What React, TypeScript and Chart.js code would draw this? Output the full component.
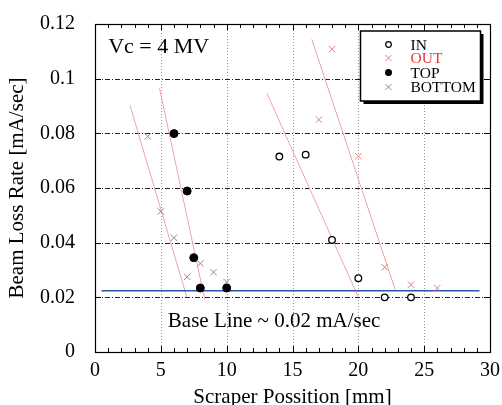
import React, { useEffect, useRef } from "react";
import { Chart, registerables } from "chart.js";

Chart.register(...registerables);

// ---- data ----
const inX = [14, 16, 18, 20, 22, 24];
const inY = [0.0715, 0.0722, 0.041, 0.027, 0.02, 0.02];
const outX = [17, 18, 20, 22, 24, 26];
const outY = [0.085, 0.1108, 0.0716, 0.031, 0.0246, 0.0234];
const topX = [6, 7, 7.5, 8, 10];
const topY = [0.0799, 0.0589, 0.0345, 0.0234, 0.0234];
const bottomX = [4, 5, 6, 7, 8, 9, 10];
const bottomY = [0.0789, 0.0514, 0.0418, 0.0275, 0.0324, 0.0292, 0.0256];
// fitted lines (two endpoints each)
const fitAX = [2.65, 6.97];
const fitAY = [0.0904, 0.0201];
const fitBX = [4.9, 8.33];
const fitBY = [0.0965, 0.0193];
const fitCX = [13.05, 20.0];
const fitCY = [0.0947, 0.0201];
const fitDX = [16.46, 22.8];
const fitDY = [0.1144, 0.0228];
const baseX = [0.5, 29.2];
const baseY = [0.0224, 0.0224];

const xTicks = [0, 5, 10, 15, 20, 25, 30];
const yTicks = [0, 0.02, 0.04, 0.06, 0.08, 0.1, 0.12];

const legendLabels = ["IN", "OUT", "TOP", "BOTTOM"];
const annotVc = { text: "Vc = 4 MV", x: 1.0, y: 0.1095 };
const annotBase = { text: "Base Line ~ 0.02 mA/sec", x: 5.53, y: 0.0092 };

const FONT = "'Liberation Serif', 'Times New Roman', serif";
const RED = "#ef7a7a";
const RED_LINE = "#f3a3a3";
const GREY = "#8a8a8a";

const pts = (xs: number[], ys: number[]) => xs.map((x, i) => ({ x, y: ys[i] }));

const framePlugin = {
  id: "frame",
  beforeDatasetsDraw(chart: any) {
    const { ctx, chartArea: a, scales } = chart;
    const xs = scales.x;
    const ys = scales.y;
    ctx.save();
    // vertical grid (dotted grey)
    ctx.strokeStyle = "#9a9a9a";
    ctx.lineWidth = 1;
    ctx.setLineDash([1, 2]);
    xTicks.slice(1, -1).forEach((v) => {
      const px = Math.round(xs.getPixelForValue(v)) + 0.5;
      ctx.beginPath();
      ctx.moveTo(px, a.top);
      ctx.lineTo(px, a.bottom);
      ctx.stroke();
    });
    // horizontal grid (dash-dot dark)
    ctx.strokeStyle = "#222";
    ctx.setLineDash([5, 2, 1, 2]);
    yTicks.slice(1, -1).forEach((v) => {
      const py = Math.round(ys.getPixelForValue(v)) + 0.5;
      ctx.beginPath();
      ctx.moveTo(a.left, py);
      ctx.lineTo(a.right, py);
      ctx.stroke();
    });
    ctx.setLineDash([]);
    // ticks
    ctx.strokeStyle = "#000";
    ctx.lineWidth = 1;
    for (let v = 0; v <= 30; v += 1) {
      const px = Math.round(xs.getPixelForValue(v)) + 0.5;
      const len = v % 5 === 0 ? 6 : 4;
      ctx.beginPath();
      ctx.moveTo(px, a.bottom);
      ctx.lineTo(px, a.bottom - len);
      ctx.moveTo(px, a.top);
      ctx.lineTo(px, a.top + len);
      ctx.stroke();
    }
    yTicks.forEach((v) => {
      const py = Math.round(ys.getPixelForValue(v)) + 0.5;
      ctx.beginPath();
      ctx.moveTo(a.left, py);
      ctx.lineTo(a.left + 6, py);
      ctx.moveTo(a.right, py);
      ctx.lineTo(a.right - 6, py);
      ctx.stroke();
    });
    // frame
    ctx.lineWidth = 1.2;
    ctx.strokeRect(a.left + 0.5, a.top + 0.5, a.right - a.left, a.bottom - a.top);
    ctx.restore();
  },
  afterDraw(chart: any) {
    const { ctx, chartArea: a, scales } = chart;
    const xs = scales.x;
    const ys = scales.y;
    ctx.save();
    // annotations
    ctx.fillStyle = "#000";
    ctx.textBaseline = "alphabetic";
    ctx.textAlign = "left";
    ctx.font = `22px ${FONT}`;
    ctx.fillText(annotVc.text, xs.getPixelForValue(annotVc.x), ys.getPixelForValue(annotVc.y));
    ctx.font = `21px ${FONT}`;
    ctx.fillText(annotBase.text, xs.getPixelForValue(annotBase.x), ys.getPixelForValue(annotBase.y));

    // legend box with shadow
    const bx = a.right - 129.5;
    const by = a.top + 7;
    const bw = 120;
    const bh = 70;
    ctx.fillStyle = "#000";
    ctx.fillRect(bx + 3, by + 3, bw, bh);
    ctx.fillStyle = "#fff";
    ctx.fillRect(bx, by, bw, bh);
    ctx.strokeStyle = "#000";
    ctx.lineWidth = 1.5;
    ctx.strokeRect(bx, by, bw, bh);

    const symX = bx + 28;
    const txtX = bx + 50;
    const rows = [13.5, 27, 41.5, 56];
    ctx.font = `15.5px ${FONT}`;
    ctx.textBaseline = "middle";
    legendLabels.forEach((lab, i) => {
      const cy = by + rows[i];
      ctx.lineWidth = 1.2;
      if (i === 0) {
        ctx.strokeStyle = "#000";
        ctx.beginPath();
        ctx.arc(symX, cy, 2.8, 0, Math.PI * 2);
        ctx.stroke();
      } else if (i === 2) {
        ctx.fillStyle = "#000";
        ctx.beginPath();
        ctx.arc(symX, cy, 3.5, 0, Math.PI * 2);
        ctx.fill();
      } else {
        ctx.strokeStyle = i === 1 ? RED : GREY;
        ctx.lineWidth = 1;
        const s = 3;
        ctx.beginPath();
        ctx.moveTo(symX - s, cy - s);
        ctx.lineTo(symX + s, cy + s);
        ctx.moveTo(symX - s, cy + s);
        ctx.lineTo(symX + s, cy - s);
        ctx.stroke();
      }
      ctx.fillStyle = i === 1 ? "#e23b3b" : "#000";
      ctx.fillText(lab, txtX, cy + 1);
    });
    ctx.restore();
  },
};

export default function App() {
  const ref = useRef<HTMLCanvasElement | null>(null);
  useEffect(() => {
    if (!ref.current) return;
    const fitStyle = {
      showLine: true,
      pointRadius: 0,
      borderColor: RED_LINE,
      borderWidth: 1,
      fill: false,
      order: 10,
    };
    const chart = new Chart(ref.current, {
      type: "scatter",
      data: {
        datasets: [
          {
            label: "IN",
            data: pts(inX, inY),
            pointStyle: "circle",
            pointRadius: 3.3,
            borderColor: "#000",
            backgroundColor: "#fff",
            borderWidth: 1.3,
            order: 1,
          },
          {
            label: "OUT",
            data: pts(outX, outY),
            pointStyle: "crossRot",
            pointRadius: 4.5,
            borderColor: RED,
            backgroundColor: RED,
            borderWidth: 1,
            order: 1,
          },
          {
            label: "TOP",
            data: pts(topX, topY),
            pointStyle: "circle",
            pointRadius: 4,
            borderColor: "#000",
            backgroundColor: "#000",
            borderWidth: 1,
            order: 1,
          },
          {
            label: "BOTTOM",
            data: pts(bottomX, bottomY),
            pointStyle: "crossRot",
            pointRadius: 4.5,
            borderColor: GREY,
            backgroundColor: GREY,
            borderWidth: 1,
            order: 1,
          },
          { label: "fitA", data: pts(fitAX, fitAY), ...fitStyle },
          { label: "fitB", data: pts(fitBX, fitBY), ...fitStyle },
          { label: "fitC", data: pts(fitCX, fitCY), ...fitStyle },
          { label: "fitD", data: pts(fitDX, fitDY), ...fitStyle },
          {
            label: "base",
            data: pts(baseX, baseY),
            showLine: true,
            pointRadius: 0,
            borderColor: "#2a55b0",
            borderWidth: 1.4,
            order: 9,
          },
        ] as any,
      },
      options: {
        animation: false,
        responsive: false,
        events: [],
        layout: { padding: { top: 22, right: 12, left: 0, bottom: 0 } },
        plugins: { legend: { display: false }, tooltip: { enabled: false } },
        scales: {
          x: {
            type: "linear",
            min: 0,
            max: 30,
            afterFit: (s: any) => {
              s.height = 53;
            },
            afterBuildTicks: (s: any) => {
              s.ticks = xTicks.map((v) => ({ value: v }));
            },
            ticks: {
              color: "#000",
              font: { family: FONT, size: 20 },
              padding: -1,
              maxRotation: 0,
              autoSkip: false,
            },
            grid: { display: false },
            border: { display: false },
            title: {
              display: true,
              text: "Scraper Possition [mm]",
              color: "#000",
              font: { family: FONT, size: 21, lineHeight: 0.7 },
              padding: { top: 0, bottom: 0 },
            },
          },
          y: {
            type: "linear",
            min: 0,
            max: 0.12,
            afterFit: (s: any) => {
              s.width = 95;
            },
            afterBuildTicks: (s: any) => {
              s.ticks = yTicks.map((v) => ({ value: v }));
            },
            ticks: {
              color: "#000",
              font: { family: FONT, size: 20 },
              padding: 12,
              autoSkip: false,
              callback: (v: any) => String(parseFloat(Number(v).toFixed(2))),
            },
            grid: { display: false },
            border: { display: false },
            title: {
              display: true,
              text: "Beam Loss Rate [mA/sec]",
              color: "#000",
              font: { family: FONT, size: 21 },
              padding: { top: 5, bottom: 0 },
            },
          },
        },
      } as any,
      plugins: [framePlugin],
    });
    return () => chart.destroy();
  }, []);
  return (
    <div style={{ position: "absolute", left: 0, top: 0, width: 502, height: 405, background: "#fff" }}>
      <canvas ref={ref} width={502} height={405} style={{ display: "block", width: 502, height: 405 }} />
    </div>
  );
}
